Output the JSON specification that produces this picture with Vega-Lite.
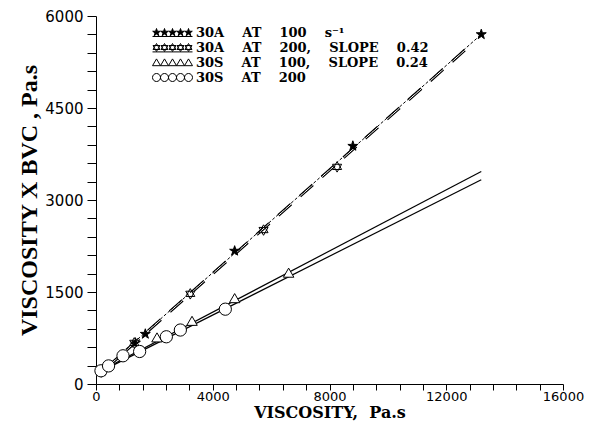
{
  "$schema": "https://vega.github.io/schema/vega-lite/v6.json",
  "width": 467,
  "height": 368,
  "autosize": {"type": "none"},
  "padding": {"left": 96, "top": 16, "right": 28, "bottom": 38},
  "background": "white",
  "datasets": {
    "points": [
      {"series": "30A-100", "x": 205, "y": 200},
      {"series": "30A-100", "x": 1350, "y": 670},
      {"series": "30A-100", "x": 1690, "y": 815},
      {"series": "30A-100", "x": 4750, "y": 2170},
      {"series": "30A-100", "x": 8800, "y": 3880},
      {"series": "30A-100", "x": 13200, "y": 5700},
      {"series": "30A-200", "x": 180, "y": 195},
      {"series": "30A-200", "x": 1310, "y": 670},
      {"series": "30A-200", "x": 3230, "y": 1470},
      {"series": "30A-200", "x": 5740, "y": 2510},
      {"series": "30A-200", "x": 8260, "y": 3540},
      {"series": "30S-100", "x": 300, "y": 290},
      {"series": "30S-100", "x": 2090, "y": 760},
      {"series": "30S-100", "x": 3290, "y": 1030},
      {"series": "30S-100", "x": 4750, "y": 1400},
      {"series": "30S-100", "x": 6600, "y": 1815},
      {"series": "30S-200", "x": 170, "y": 215},
      {"series": "30S-200", "x": 430, "y": 295},
      {"series": "30S-200", "x": 925, "y": 460},
      {"series": "30S-200", "x": 1495, "y": 530},
      {"series": "30S-200", "x": 2410, "y": 770},
      {"series": "30S-200", "x": 2890, "y": 880},
      {"series": "30S-200", "x": 4430, "y": 1220}
    ],
    "fits": [
      {"fit": "30S-100", "x": 100, "y": 200},
      {"fit": "30S-100", "x": 13200, "y": 3465},
      {"fit": "30S-200", "x": 100, "y": 190},
      {"fit": "30S-200", "x": 13200, "y": 3330},
      {"fit": "30A-dot", "x": 150, "y": 190},
      {"fit": "30A-dot", "x": 13200, "y": 5700},
      {"fit": "30A-dash", "x": 300, "y": 240},
      {"fit": "30A-dash", "x": 12700, "y": 5470}
    ]
  },
  "config": {
    "view": {"stroke": null},
    "axis": {
      "grid": false,
      "domainColor": "black",
      "domainWidth": 1,
      "tickColor": "black",
      "tickWidth": 1,
      "labelColor": "black",
      "titleColor": "black",
      "labelFont": "DejaVu Sans",
      "labelFontSize": 15,
      "labelOverlap": false,
      "labelFlush": false
    }
  },
  "encoding": {
    "x": {
      "field": "x",
      "type": "quantitative",
      "scale": {"domain": [0, 16000], "nice": false},
      "axis": {
        "orient": "bottom",
        "values": [0, 800, 1600, 2400, 3200, 4000, 4800, 5600, 6400, 7200, 8000, 8800, 9600, 10400, 11200, 12000, 12800, 13600, 14400, 15200, 16000],
        "labelExpr": "datum.value % 4000 === 0 ? format(datum.value, 'd') : ''",
        "tickSize": 6,
        "labelPadding": 0,
        "labelFontSize": 13,
        "title": "VISCOSITY,\u00a0 Pa.s",
        "titleFont": "DejaVu Serif",
        "titleFontWeight": "bold",
        "titleFontSize": 16,
        "titleBaseline": "alphabetic",
        "titleY": 33
      }
    },
    "y": {
      "field": "y",
      "type": "quantitative",
      "scale": {"domain": [0, 6000], "nice": false},
      "axis": {
        "orient": "left",
        "values": [0, 300, 600, 900, 1200, 1500, 1800, 2100, 2400, 2700, 3000, 3300, 3600, 3900, 4200, 4500, 4800, 5100, 5400, 5700, 6000],
        "labelExpr": "datum.value % 1500 === 0 ? format(datum.value, 'd') : ''",
        "tickSize": 9,
        "labelPadding": 4,
        "title": "VISCOSITY X BVC , Pa.s",
        "titleFont": "Liberation Serif",
        "titleFontWeight": "bold",
        "titleFontSize": 24,
        "titlePadding": 3
      }
    }
  },
  "resolve": {
    "scale": {"shape": "independent", "fill": "independent"},
    "legend": {"shape": "independent", "fill": "independent"}
  },
  "layer": [
    {
      "data": {"name": "fits"},
      "transform": [{"filter": "datum.fit === '30S-100' || datum.fit === '30S-200'"}],
      "mark": {"type": "line", "color": "black", "strokeWidth": 1.2},
      "encoding": {"detail": {"field": "fit", "type": "nominal"}}
    },
    {
      "data": {"name": "fits"},
      "transform": [{"filter": "datum.fit === '30A-dash'"}],
      "mark": {"type": "line", "color": "black", "strokeWidth": 3, "strokeDash": [17, 12]},
      "encoding": {}
    },
    {
      "data": {"name": "fits"},
      "transform": [{"filter": "datum.fit === '30A-dash'"}],
      "mark": {"type": "line", "color": "white", "strokeWidth": 1, "strokeDash": [17, 12]},
      "encoding": {}
    },
    {
      "data": {"name": "fits"},
      "transform": [{"filter": "datum.fit === '30A-dot'"}],
      "mark": {"type": "line", "color": "black", "strokeWidth": 1, "strokeDash": [3, 2]},
      "encoding": {}
    },
    {
      "data": {"name": "points"},
      "mark": {"type": "point", "filled": true, "stroke": "black", "strokeWidth": 1, "opacity": 1},
      "encoding": {
        "shape": {
          "field": "series",
          "type": "nominal",
          "scale": {
            "domain": ["30A-100", "30A-200", "30S-100", "30S-200"],
            "range": ["M0,-1L0.225,-0.309L0.951,-0.309L0.363,0.118L0.588,0.809L0,0.382L-0.588,0.809L-0.363,0.118L-0.951,-0.309L-0.225,-0.309Z", "M0,-1L0.866,0.5L-0.866,0.5ZM0,1L0.866,-0.5L-0.866,-0.5Z", "triangle-up", "circle"]
          },
          "legend": null
        },
        "fill": {
          "field": "series",
          "type": "nominal",
          "scale": {
            "domain": ["30A-100", "30A-200", "30S-100", "30S-200"],
            "range": ["black", "white", "white", "white"]
          },
          "legend": null
        },
        "size": {
          "condition": {"test": "datum.series === '30S-200'", "value": 150},
          "value": 110
        }
      }
    },
    {
      "data": {"name": "points"},
      "transform": [{"filter": "false"}],
      "mark": {"type": "point", "filled": true, "stroke": "black", "strokeWidth": 1, "opacity": 1},
      "encoding": {
        "shape": {
          "field": "series",
          "type": "nominal",
          "scale": {
            "domain": ["30A-100", "30A-200", "30S-100", "30S-200"],
            "range": [
              "M-8,-1L-7.775,-0.309L-7.049,-0.309L-7.637,0.118L-7.412,0.809L-8,0.382L-8.588,0.809L-8.363,0.118L-8.951,-0.309L-8.225,-0.309ZM-6,-1L-5.775,-0.309L-5.049,-0.309L-5.637,0.118L-5.412,0.809L-6,0.382L-6.588,0.809L-6.363,0.118L-6.951,-0.309L-6.225,-0.309ZM-4,-1L-3.775,-0.309L-3.049,-0.309L-3.637,0.118L-3.412,0.809L-4,0.382L-4.588,0.809L-4.363,0.118L-4.951,-0.309L-4.225,-0.309ZM-2,-1L-1.775,-0.309L-1.049,-0.309L-1.637,0.118L-1.412,0.809L-2,0.382L-2.588,0.809L-2.363,0.118L-2.951,-0.309L-2.225,-0.309ZM0,-1L0.225,-0.309L0.951,-0.309L0.363,0.118L0.588,0.809L0,0.382L-0.588,0.809L-0.363,0.118L-0.951,-0.309L-0.225,-0.309ZM-9,1L1,1",
              "M-8,-1L-7.134,0.5L-8.866,0.5ZM-8,1L-7.134,-0.5L-8.866,-0.5ZM-6,-1L-5.134,0.5L-6.866,0.5ZM-6,1L-5.134,-0.5L-6.866,-0.5ZM-4,-1L-3.134,0.5L-4.866,0.5ZM-4,1L-3.134,-0.5L-4.866,-0.5ZM-2,-1L-1.134,0.5L-2.866,0.5ZM-2,1L-1.134,-0.5L-2.866,-0.5ZM0,-1L0.866,0.5L-0.866,0.5ZM0,1L0.866,-0.5L-0.866,-0.5ZM-9,1.1L1,1.1",
              "M-8,-0.9L-7,0.8L-9,0.8ZM-6,-0.9L-5,0.8L-7,0.8ZM-4,-0.9L-3,0.8L-5,0.8ZM-2,-0.9L-1,0.8L-3,0.8ZM0,-0.9L1,0.8L-1,0.8Z",
              "M-7,0A1,1,0,1,1,-9,0A1,1,0,1,1,-7,0ZM-5,0A1,1,0,1,1,-7,0A1,1,0,1,1,-5,0ZM-3,0A1,1,0,1,1,-5,0A1,1,0,1,1,-3,0ZM-1,0A1,1,0,1,1,-3,0A1,1,0,1,1,-1,0ZM1,0A1,1,0,1,1,-1,0A1,1,0,1,1,1,0Z"
            ]
          },
          "legend": {
            "title": null,
            "orient": "none",
            "legendX": 86,
            "legendY": 10,
            "padding": 0,
            "rowPadding": 1,
            "symbolSize": 64,
            "symbolStrokeWidth": 1,
            "labelOffset": 1,
            "labelFont": "DejaVu Serif",
            "labelFontWeight": "bold",
            "labelFontSize": 13,
            "labelColor": "black",
            "labelLimit": 500,
            "labelExpr": "datum.value === '30A-100' ? '30A\u00a0\u00a0\u00a0 AT\u00a0\u00a0\u00a0 100\u00a0\u00a0\u00a0 s⁻¹' : datum.value === '30A-200' ? '30A\u00a0\u00a0\u00a0 AT\u00a0\u00a0\u00a0 200,\u00a0\u00a0\u00a0 SLOPE\u00a0\u00a0\u00a0 0.42' : datum.value === '30S-100' ? '30S\u00a0\u00a0\u00a0 AT\u00a0\u00a0\u00a0 100,\u00a0\u00a0\u00a0 SLOPE\u00a0\u00a0\u00a0 0.24' : '30S\u00a0\u00a0\u00a0 AT\u00a0\u00a0\u00a0 200'",
            "encoding": {
              "symbols": {
                "stroke": {"value": "black"},
                "strokeWidth": {"value": 1}
              }
            }
          }
        },
        "fill": {
          "field": "series",
          "type": "nominal",
          "scale": {
            "domain": ["30A-100", "30A-200", "30S-100", "30S-200"],
            "range": ["black", "white", "white", "white"]
          },
          "legend": {
            "title": null,
            "orient": "none",
            "legendX": 86,
            "legendY": 10,
            "padding": 0,
            "rowPadding": 1,
            "symbolSize": 64,
            "symbolStrokeWidth": 1,
            "labelOffset": 1,
            "labelFont": "DejaVu Serif",
            "labelFontWeight": "bold",
            "labelFontSize": 13,
            "labelColor": "black",
            "labelLimit": 500,
            "labelExpr": "datum.value === '30A-100' ? '30A\u00a0\u00a0\u00a0 AT\u00a0\u00a0\u00a0 100\u00a0\u00a0\u00a0 s⁻¹' : datum.value === '30A-200' ? '30A\u00a0\u00a0\u00a0 AT\u00a0\u00a0\u00a0 200,\u00a0\u00a0\u00a0 SLOPE\u00a0\u00a0\u00a0 0.42' : datum.value === '30S-100' ? '30S\u00a0\u00a0\u00a0 AT\u00a0\u00a0\u00a0 100,\u00a0\u00a0\u00a0 SLOPE\u00a0\u00a0\u00a0 0.24' : '30S\u00a0\u00a0\u00a0 AT\u00a0\u00a0\u00a0 200'",
            "encoding": {
              "symbols": {
                "stroke": {"value": "black"},
                "strokeWidth": {"value": 1}
              }
            }
          }
        }
      }
    }
  ]
}
